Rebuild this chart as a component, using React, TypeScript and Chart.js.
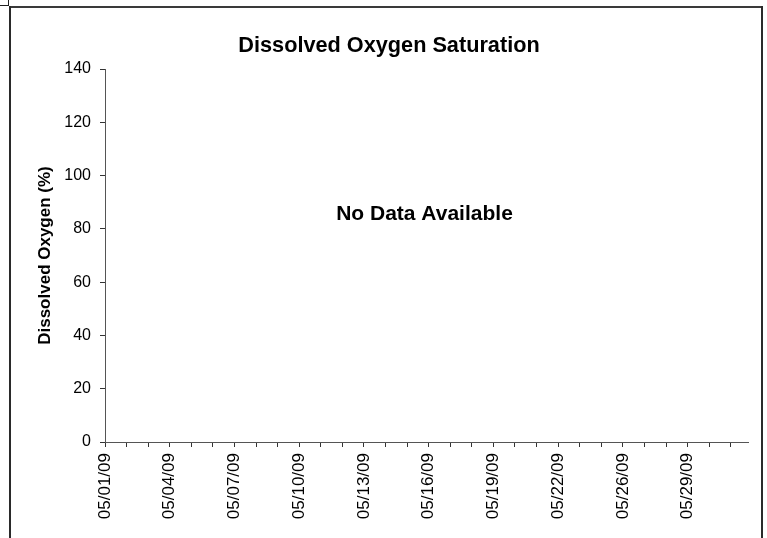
import { useEffect, useRef } from 'react';
import { Chart, registerables } from 'chart.js';

Chart.register(...registerables);

// ---- Data ----
const categories: string[] = [
  '05/01/09', '05/02/09', '05/03/09', '05/04/09', '05/05/09', '05/06/09',
  '05/07/09', '05/08/09', '05/09/09', '05/10/09', '05/11/09', '05/12/09',
  '05/13/09', '05/14/09', '05/15/09', '05/16/09', '05/17/09', '05/18/09',
  '05/19/09', '05/20/09', '05/21/09', '05/22/09', '05/23/09', '05/24/09',
  '05/26/09', '05/27/09', '05/28/09', '05/29/09', '05/30/09', '05/31/09',
];

// No measurements were available for this period
const oxygenSaturation: (number | null)[] = [
  null, null, null, null, null, null, null, null, null, null,
  null, null, null, null, null, null, null, null, null, null,
  null, null, null, null, null, null, null, null, null, null,
];

const Y_MIN = 0;
const Y_MAX = 140;
const Y_STEP = 20;
const LABEL_EVERY = 3;
const X_AXIS_END = 29.8; // axis line runs slightly past the last category

const TITLE = 'Dissolved Oxygen Saturation';
const Y_TITLE = 'Dissolved Oxygen (%)';
const NO_DATA_TEXT = 'No Data Available';

const FONT = '"Liberation Sans", Arial, Helvetica, sans-serif';

const noDataPlugin = {
  id: 'noDataText',
  afterDraw(chart: any) {
    const { ctx, chartArea } = chart;
    ctx.save();
    ctx.font = `bold 21px ${FONT}`;
    ctx.fillStyle = '#000';
    ctx.textAlign = 'center';
    ctx.textBaseline = 'middle';
    ctx.fillText(
      NO_DATA_TEXT,
      (chartArea.left + chartArea.right) / 2 - 2,
      chartArea.top + chartArea.height * 0.389
    );
    ctx.restore();
  },
};

const line = (left: number, top: number, width: number, height: number, color: string) => (
  <div
    style={{
      position: 'absolute',
      left,
      top,
      width,
      height,
      background: color,
      pointerEvents: 'none',
    }}
  />
);

export default function App() {
  const canvasRef = useRef<HTMLCanvasElement | null>(null);

  useEffect(() => {
    const canvas = canvasRef.current;
    if (!canvas) return;
    const chart = new Chart(canvas, {
      type: 'line',
      data: {
        datasets: [
          {
            label: 'Dissolved Oxygen (%)',
            data: categories.map((_, i) => ({ x: i, y: oxygenSaturation[i] })) as any,
            borderColor: '#000080',
            backgroundColor: '#000080',
            pointRadius: 3,
            spanGaps: false,
          },
        ],
      },
      options: {
        animation: false,
        responsive: false,
        devicePixelRatio: 1,
        layout: { padding: { left: 30, right: 19, top: 0, bottom: 0 } },
        plugins: {
          legend: { display: false },
          tooltip: { enabled: false },
          title: {
            display: true,
            text: TITLE,
            color: '#000',
            font: { family: FONT, size: 21.7, weight: 'bold' },
            padding: { top: 33, bottom: 10 },
          },
        },
        scales: {
          x: {
            type: 'linear',
            min: 0,
            max: X_AXIS_END,
            afterBuildTicks: (s: any) => {
              s.ticks = categories.map((_, i) => ({ value: i }));
            },
            afterFit: (s: any) => {
              s.height = 96;
            },
            grid: {
              display: true,
              drawOnChartArea: false,
              drawTicks: true,
              tickLength: 5,
              tickColor: '#333',
              tickWidth: 1,
            },
            border: { display: true, color: '#555', width: 1 },
            ticks: {
              autoSkip: false,
              minRotation: 90,
              maxRotation: 90,
              padding: 6,
              color: '#000',
              font: { family: FONT, size: 17 },
              callback: (v: any) =>
                Number(v) % LABEL_EVERY === 0 ? categories[Number(v)] : '',
            },
          },
          y: {
            type: 'linear',
            min: Y_MIN,
            max: Y_MAX,
            afterFit: (s: any) => {
              s.width = 75;
            },
            grid: {
              display: true,
              drawOnChartArea: false,
              drawTicks: true,
              tickLength: 5,
              tickColor: '#333',
              tickWidth: 1,
            },
            border: { display: true, color: '#555', width: 1 },
            ticks: {
              stepSize: Y_STEP,
              padding: 9,
              color: '#000',
              font: { family: FONT, size: 16 },
            },
            title: {
              display: true,
              text: Y_TITLE,
              color: '#000',
              font: { family: FONT, size: 17, weight: 'bold' },
              padding: { top: 4.8, bottom: 0 },
            },
          },
        },
      } as any,
      plugins: [noDataPlugin],
    });
    return () => chart.destroy();
  }, []);

  return (
    <div
      style={{
        position: 'fixed',
        left: 0,
        top: 0,
        width: 767,
        height: 538,
        overflow: 'hidden',
        background: '#fff',
      }}
    >
      <canvas
        ref={canvasRef}
        width={767}
        height={538}
        style={{ position: 'absolute', left: 0, top: 0, width: 767, height: 538 }}
      />
      {line(0, 5, 9, 1, '#222')}
      {line(8, 0, 1, 6, '#222')}
      {line(9, 6, 754, 2, '#3a3a3a')}
      {line(9, 6, 2, 532, '#2a2a2a')}
      {line(761, 6, 2, 532, '#2a2a2a')}
    </div>
  );
}
